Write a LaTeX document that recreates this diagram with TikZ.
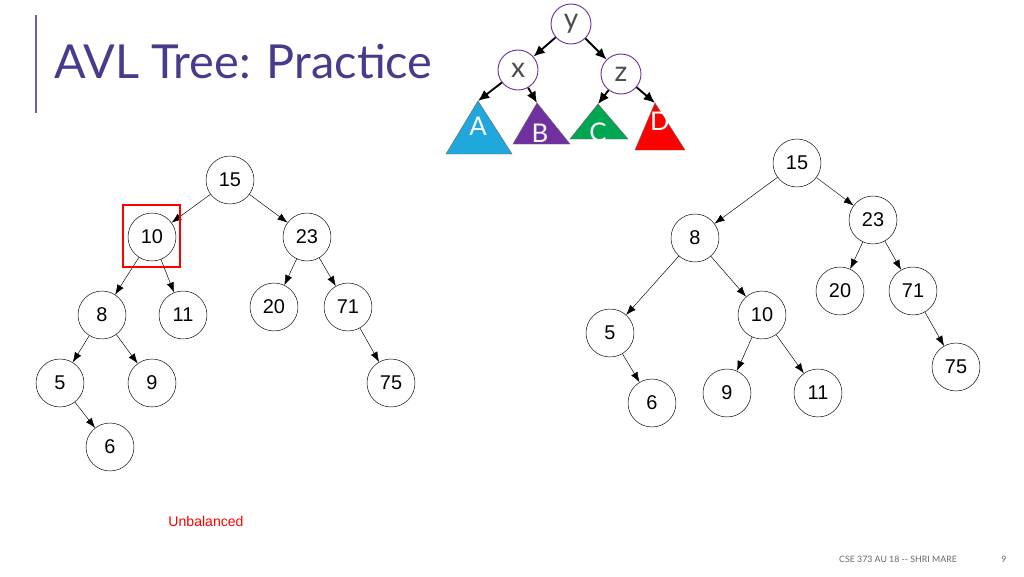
\documentclass[tikz,border=0pt]{standalone}
\usepackage{fontspec}
\setmainfont{Liberation Sans}
\newfontfamily\titlefont{Lato}
\usepackage{tikz}
\usetikzlibrary{positioning}
\usetikzlibrary{arrows.meta}
\definecolor{slidepurple}{HTML}{4A3A8C}
\definecolor{avlcyan}{HTML}{20A8DC}
\definecolor{avlpurple}{HTML}{7030A0}
\definecolor{avlgreen}{HTML}{00A651}

\tikzset{
	key/.style={circle, draw, thin, minimum size=1.44cm, inner sep=0pt, font=\fontsize{17}{17}\selectfont},
	link/.style={-{Latex[length=3mm,width=2.2mm]}, thin},
	letter/.style={circle, draw=avlpurple, thick, minimum size=1.2cm, inner sep=0pt, font=\titlefont\fontsize{24}{24}\selectfont, text=black!70},
	biglink/.style={-{Latex[length=3.4mm,width=3mm]}, line width=1.6pt},
	subtree/.style={draw=black!60, thin},
	tag/.style={text=white, font=\titlefont\fontsize{22}{22}\selectfont}
}

\begin{document}
\begin{tikzpicture}[x=0.03cm, y=-0.03cm]
	
	\useasboundingbox (0,0) rectangle (1024,576);
	
	% title
	\draw[slidepurple!80, line width=1.2pt] (36,15) -- (36,113);
	\node[anchor=west, text=slidepurple, font=\titlefont\fontsize{40}{40}\selectfont] (title) at (50,62) {AVL Tree: Practice};
	
	% rotation sketch
	\node[letter] (Y) at (571,24) {y};
	\node[letter] (X) at (518,70) {x};
	\node[letter] (Z) at (621,74) {z};
	
	\filldraw[subtree, fill=avlcyan] (446,154) -- (478,101) -- (512,154) -- cycle;
	\filldraw[subtree, fill=avlpurple] (513,144) -- (537,103) -- (570,144) -- cycle;
	\filldraw[subtree, fill=avlgreen] (570,139) -- (598,104) -- (628,139) -- cycle;
	\filldraw[subtree, fill=red] (635,150) -- (655,103) -- (685,150) -- cycle;
	
	\coordinate (A) at (478,101);
	\coordinate (B) at (537,103);
	\coordinate (C) at (598,104);
	\coordinate (D) at (655,103);
	
	\node[tag] (tA) at (478,126) {A};
	\node[tag] (tB) at (540,133) {B};
	\node[tag] (tC) at (598,132) {C};
	\node[tag] (tD) at (660,121) {D};
	
	\draw[biglink] (Y) -- (X);
	\draw[biglink] (Y) -- (Z);
	\draw[biglink] (X) -- (A);
	\draw[biglink] (X) -- (B);
	\draw[biglink] (Z) -- (C);
	\draw[biglink] (Z) -- (D);
	
	% left tree
	\node[key] (L15) at (230,180) {15};
	\node[key] (L10) at (152,237) {10};
	\node[key] (L23) at (307,237) {23};
	\node[key] (L8)  at (102,315) {8};
	\node[key] (L11) at (183,315) {11};
	\node[key] (L20) at (274,307) {20};
	\node[key] (L71) at (348,307) {71};
	\node[key] (L5)  at (60,383)  {5};
	\node[key] (L9)  at (152,383) {9};
	\node[key] (L75) at (391,383) {75};
	\node[key] (L6)  at (110,447) {6};
	
	\foreach \a/\b in {L15/L10, L15/L23, L10/L8, L10/L11, L23/L20, L23/L71, L8/L5, L8/L9, L71/L75, L5/L6}
		\draw[link] (\a) -- (\b);
	
	\draw[red, line width=1.2pt] (123,205) rectangle (180,267);
	\node[text=red, font=\fontsize{12}{12}\selectfont] (unbal) at (206,521) {Unbalanced};
	
	% right tree
	\node[key] (R15) at (797,163) {15};
	\node[key] (R23) at (873,220) {23};
	\node[key] (R8)  at (695,238) {8};
	\node[key] (R20) at (840,291) {20};
	\node[key] (R71) at (913,291) {71};
	\node[key] (R5)  at (610,333) {5};
	\node[key] (R10) at (762,315) {10};
	\node[key] (R75) at (956,367) {75};
	\node[key] (R6)  at (652,403) {6};
	\node[key] (R9)  at (727,393) {9};
	\node[key] (R11) at (818,393) {11};
	
	\foreach \a/\b in {R15/R8, R15/R23, R23/R20, R23/R71, R71/R75, R8/R5, R8/R10, R5/R6, R10/R9, R10/R11}
		\draw[link] (\a) -- (\b);
	
	% footer
	\node[text=black!60, font=\titlefont\fontsize{7.5}{8}\selectfont] (foot) at (898,559) {CSE 373 AU 18 -- SHRI MARE};
	\node[text=black!60, font=\titlefont\fontsize{7.5}{8}\selectfont] (page) at (1004,559) {9};
	
\end{tikzpicture}
\end{document}
